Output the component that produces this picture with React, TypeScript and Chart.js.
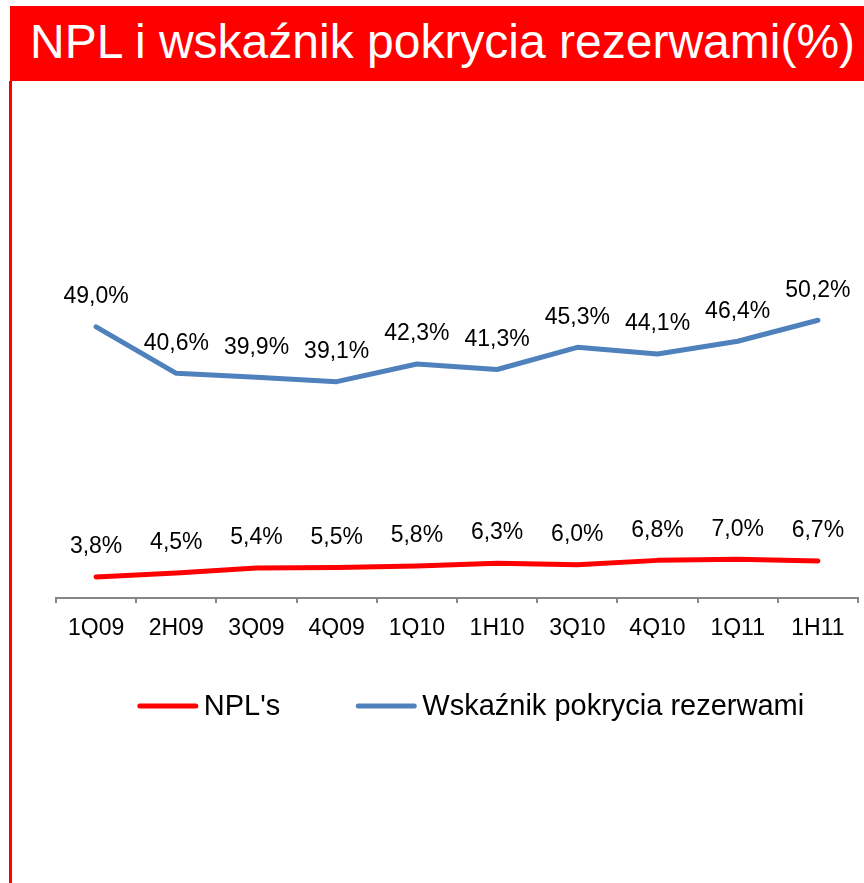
import React, { useEffect, useRef } from "react";
import { Chart, registerables } from "chart.js";

Chart.register(...registerables);

const categories = ["1Q09", "2H09", "3Q09", "4Q09", "1Q10", "1H10", "3Q10", "4Q10", "1Q11", "1H11"];
const nplValues = [3.8, 4.5, 5.4, 5.5, 5.8, 6.3, 6.0, 6.8, 7.0, 6.7];
const coverageValues = [49.0, 40.6, 39.9, 39.1, 42.3, 41.3, 45.3, 44.1, 46.4, 50.2];
const seriesNames = ["NPL's", "Wskaźnik pokrycia rezerwami"];
const titleText = "NPL i wskaźnik pokrycia rezerwami(%)";

const FONT = '"Liberation Sans", Arial, sans-serif';

const fmt = (v: number) => v.toFixed(1).replace(".", ",") + "%";

const dataLabelPlugin = {
  id: "dataLabels",
  afterDatasetsDraw(chart: any) {
    const ctx = chart.ctx;
    ctx.save();
    ctx.font = `23px ${FONT}`;
    ctx.fillStyle = "#000";
    ctx.textAlign = "center";
    ctx.textBaseline = "middle";
    chart.data.datasets.forEach((ds: any, i: number) => {
      const meta = chart.getDatasetMeta(i);
      meta.data.forEach((pt: any, j: number) => {
        ctx.fillText(fmt(ds.data[j]), pt.x, pt.y - 30);
      });
    });
    ctx.restore();
  },
};

const customLegendPlugin = {
  id: "customLegend",
  afterDraw(chart: any) {
    const ctx = chart.ctx;
    ctx.save();
    ctx.font = `29px ${FONT}`;
    const lineLen = 60;
    const gapText = 6;
    const gapItems = 76;
    const centerX = 471;
    const y = 706;
    const items = chart.data.datasets.map((ds: any) => ({
      label: ds.label,
      color: ds.borderColor,
      w: ctx.measureText(ds.label).width,
    }));
    const total = items.reduce((s: number, it: any) => s + lineLen + gapText + it.w, 0) + gapItems * (items.length - 1);
    let x = centerX - total / 2;
    items.forEach((it: any) => {
      ctx.strokeStyle = it.color;
      ctx.lineWidth = 5;
      ctx.lineCap = "round";
      ctx.beginPath();
      ctx.moveTo(x + 2, y);
      ctx.lineTo(x + lineLen - 2, y);
      ctx.stroke();
      ctx.fillStyle = "#000";
      ctx.textAlign = "left";
      ctx.textBaseline = "middle";
      ctx.fillText(it.label, x + lineLen + gapText, y + 1);
      x += lineLen + gapText + it.w + gapItems;
    });
    ctx.restore();
  },
};

export default function App() {
  const canvasRef = useRef<HTMLCanvasElement | null>(null);

  useEffect(() => {
    document.body.style.margin = "0";
    const canvas = canvasRef.current;
    if (!canvas) return;
    const chart = new Chart(canvas, {
      type: "line",
      data: {
        labels: categories,
        datasets: [
          {
            label: seriesNames[0],
            data: nplValues,
            borderColor: "#FF0000",
            backgroundColor: "#FF0000",
            borderWidth: 5,
            borderCapStyle: "round",
            borderJoinStyle: "round",
            pointRadius: 0,
            tension: 0,
          },
          {
            label: seriesNames[1],
            data: coverageValues,
            borderColor: "#4F81BD",
            backgroundColor: "#4F81BD",
            borderWidth: 5,
            borderCapStyle: "round",
            borderJoinStyle: "round",
            pointRadius: 0,
            tension: 0,
          },
        ],
      },
      options: {
        animation: false,
        responsive: false,
        devicePixelRatio: 1,
        layout: { padding: { left: 56, right: 6, top: 266, bottom: 245 } },
        plugins: {
          legend: { display: false },
          title: { display: false },
          tooltip: { enabled: false },
        },
        scales: {
          x: {
            type: "category",
            offset: true,
            afterFit: (scale: any) => {
              scale.height = 40;
            },
            grid: {
              offset: true,
              drawOnChartArea: false,
              drawTicks: true,
              tickLength: 5,
              color: "#868686",
              lineWidth: 2,
            },
            border: { display: true, color: "#868686", width: 2 },
            ticks: {
              color: "#000",
              padding: 12,
              font: { family: FONT, size: 23 },
              maxRotation: 0,
              autoSkip: false,
            },
          },
          y: {
            display: false,
            min: 0,
            max: 60,
          },
        },
      },
      plugins: [dataLabelPlugin, customLegendPlugin],
    } as any);
    return () => chart.destroy();
  }, []);

  return (
    <div style={{ position: "fixed", left: 0, top: 0, width: 864, height: 883, background: "#fff", overflow: "hidden" }}>
      <canvas ref={canvasRef} width={864} height={883} style={{ position: "absolute", left: 0, top: 0, width: 864, height: 883 }} />
      <div
        style={{
          position: "absolute",
          left: 10,
          top: 6,
          width: 854,
          height: 75,
          background: "#FF0000",
          color: "#fff",
          fontFamily: FONT,
          fontSize: 48,
          lineHeight: "71px",
          paddingLeft: 20,
          boxSizing: "border-box",
          whiteSpace: "nowrap",
        }}
      >
        {titleText}
      </div>
      <div style={{ position: "absolute", left: 9, top: 81, width: 3, height: 802, background: "#FF0000" }} />
    </div>
  );
}
